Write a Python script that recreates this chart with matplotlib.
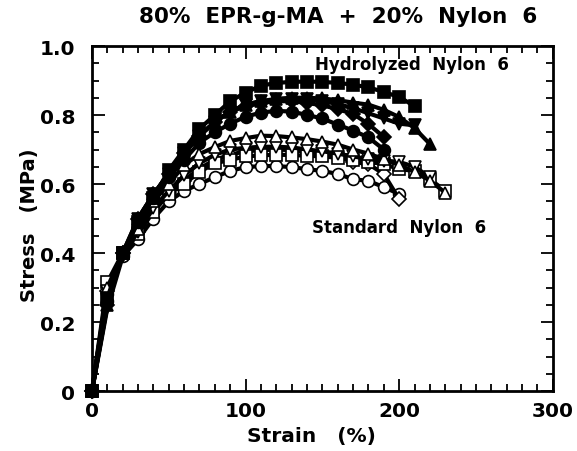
import matplotlib
matplotlib.use("Agg")
import matplotlib.pyplot as plt
from matplotlib.ticker import MultipleLocator

plt.rcParams['font.family'] = ['DejaVu Sans']
plt.rcParams['font.weight'] = 'bold'

# Strain (%) sampled every 10 %
strain = list(range(0, 240, 10))

# Hydrolyzed nylon 6 blends (filled symbols)
hyd_square = [0, 0.27, 0.40, 0.49, 0.56, 0.64, 0.70, 0.76, 0.80, 0.84, 0.865, 0.885,
              0.893, 0.896, 0.897, 0.896, 0.893, 0.888, 0.88, 0.867, 0.852, 0.826]
hyd_tri_up = [0, 0.25, 0.40, 0.50, 0.57, 0.63, 0.69, 0.74, 0.78, 0.81, 0.83, 0.84,
              0.847, 0.85, 0.85, 0.848, 0.843, 0.836, 0.83, 0.815, 0.794, 0.762, 0.716]
hyd_tri_down = [0, 0.24, 0.39, 0.50, 0.57, 0.63, 0.69, 0.74, 0.78, 0.81, 0.83, 0.84,
                0.845, 0.846, 0.845, 0.84, 0.832, 0.82, 0.805, 0.79, 0.775, 0.77]
hyd_diamond = [0, 0.25, 0.40, 0.50, 0.57, 0.63, 0.69, 0.74, 0.78, 0.81, 0.825, 0.835,
               0.84, 0.84, 0.835, 0.828, 0.817, 0.803, 0.774, 0.736]
hyd_circle = [0, 0.26, 0.40, 0.49, 0.56, 0.62, 0.67, 0.72, 0.75, 0.775, 0.795, 0.807,
              0.812, 0.81, 0.80, 0.79, 0.772, 0.755, 0.735, 0.70]

# Standard nylon 6 blends (open symbols)
std_tri_up = [0, 0.30, 0.40, 0.47, 0.55, 0.60, 0.655, 0.687, 0.707, 0.725, 0.733, 0.74,
              0.739, 0.735, 0.73, 0.723, 0.714, 0.70, 0.688, 0.672, 0.655, 0.635, 0.61, 0.575]
std_tri_down = [0, 0.29, 0.40, 0.46, 0.53, 0.58, 0.625, 0.66, 0.685, 0.70, 0.705, 0.708,
                0.708, 0.706, 0.70, 0.695, 0.688, 0.68, 0.672, 0.668, 0.664, 0.65, 0.62]
std_square = [0, 0.315, 0.40, 0.455, 0.52, 0.57, 0.60, 0.635, 0.66, 0.67, 0.68, 0.683,
              0.685, 0.684, 0.682, 0.68, 0.676, 0.67, 0.664, 0.658, 0.643, 0.638, 0.614, 0.58]
std_diamond = [0, 0.29, 0.40, 0.46, 0.525, 0.575, 0.61, 0.645, 0.67, 0.685, 0.695, 0.698,
               0.70, 0.698, 0.694, 0.688, 0.68, 0.664, 0.658, 0.629, 0.556]
std_circle = [0, 0.28, 0.39, 0.44, 0.50, 0.55, 0.58, 0.60, 0.62, 0.638, 0.649, 0.652,
              0.652, 0.649, 0.643, 0.638, 0.629, 0.614, 0.609, 0.591, 0.571]

fig = plt.figure(figsize=(5.77, 4.52), dpi=100)
ax = fig.add_axes([0.1594, 0.1327, 0.7986, 0.7633])

series = [
    (std_circle, 'o', 'white'),
    (std_diamond, 'D', 'white'),
    (std_square, 's', 'white'),
    (std_tri_down, 'v', 'white'),
    (std_tri_up, '^', 'white'),
    (hyd_circle, 'o', 'black'),
    (hyd_diamond, 'D', 'black'),
    (hyd_tri_down, 'v', 'black'),
    (hyd_tri_up, '^', 'black'),
    (hyd_square, 's', 'black'),
]

for values, marker, face in series:
    size = 7 if marker == 'D' else 8.5
    ax.plot(strain[:len(values)], values, color='black', lw=3,
            marker=marker, markersize=size, markerfacecolor=face,
            markeredgecolor='black', markeredgewidth=1.2, clip_on=False)

ax.set_xlim(0, 300)
ax.set_ylim(0, 1.0)
ax.xaxis.set_minor_locator(MultipleLocator(10))
ax.yaxis.set_minor_locator(MultipleLocator(0.05))
ax.set_xticks([0, 100, 200, 300], ['0', '100', '200', '300'])
ax.set_yticks([0, 0.2, 0.4, 0.6, 0.8, 1.0], ['0', '0.2', '0.4', '0.6', '0.8', '1.0'])
ax.tick_params(which='both', direction='in', top=True, right=True, width=1.3,
               labelsize=14.5)
ax.tick_params(which='major', length=9)
ax.tick_params(axis='x', which='major', pad=7)
ax.tick_params(axis='y', which='major', pad=12)
ax.tick_params(which='minor', length=5)
for spine in ax.spines.values():
    spine.set_linewidth(2)

ax.set_xlabel('Strain   (%)', fontsize=14.5, fontweight='bold')
ax.xaxis.set_label_coords(0.477, -0.1)
ax.set_ylabel('Stress   (MPa)', fontsize=14, fontweight='bold')
ax.yaxis.set_label_coords(-0.115, 0.484)
fig.suptitle('80%  EPR-g-MA  +  20%  Nylon  6', x=0.586, y=0.985,
             fontsize=15.5, fontweight='bold')

ax.text(208, 0.948, 'Hydrolyzed  Nylon  6', ha='center', va='center',
        fontsize=12, fontweight='bold')
ax.text(200, 0.475, 'Standard  Nylon  6', ha='center', va='center',
        fontsize=12, fontweight='bold')

fig.savefig('out.png', dpi=100)
